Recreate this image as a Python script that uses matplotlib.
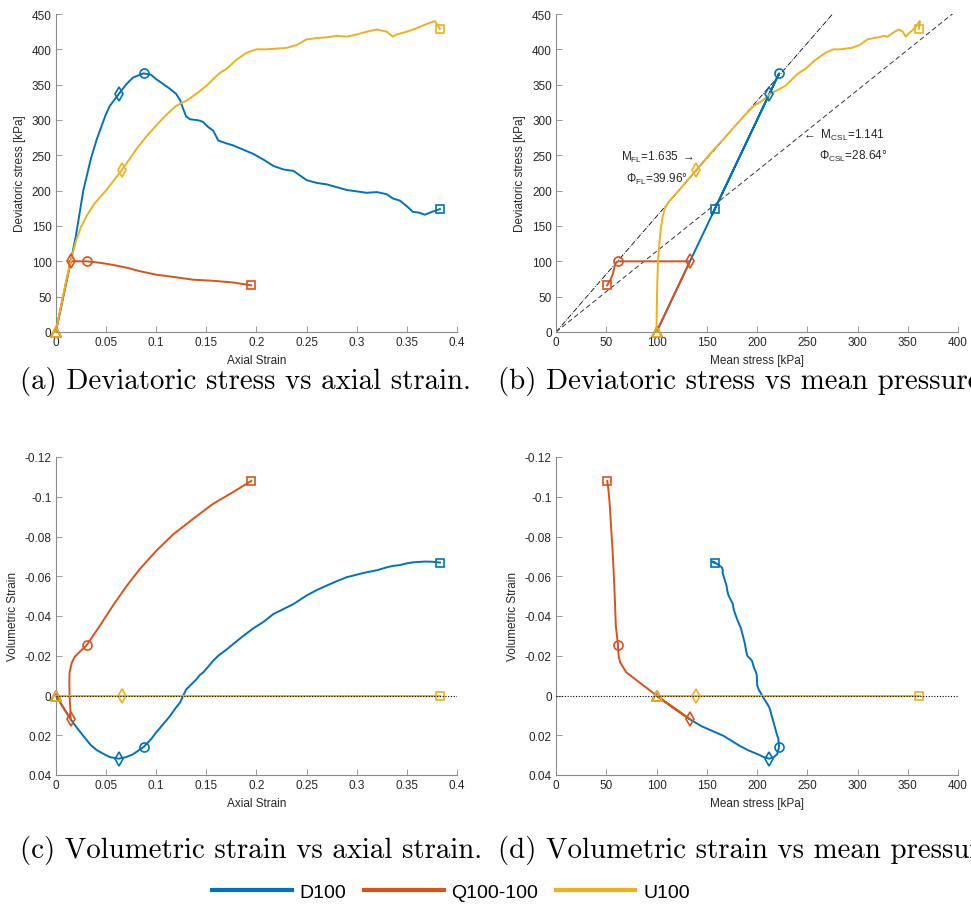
import numpy as np
import matplotlib
matplotlib.use("Agg")
import matplotlib.pyplot as plt
from matplotlib.lines import Line2D
from matplotlib.ticker import FuncFormatter

plt.rcParams['font.family'] = ['Liberation Sans', 'DejaVu Sans']
plt.rcParams['mathtext.fontset'] = 'custom'
plt.rcParams['mathtext.rm'] = 'Liberation Sans'
plt.rcParams['mathtext.it'] = 'Liberation Sans:italic'
plt.rcParams['mathtext.bf'] = 'Liberation Sans:bold'

# ---------------- data ----------------
series_names = ["D100", "Q100-100", "U100"]
colors = ["#0072BD", "#D95319", "#EDB120"]

# D100 (drained): axial strain, deviatoric stress [kPa], volumetric strain, mean stress [kPa]
d_strain = [0, 0.005, 0.01, 0.015, 0.02, 0.0275, 0.035, 0.041, 0.05, 0.054, 0.063, 0.07,
            0.077, 0.0876, 0.095, 0.1, 0.107, 0.114, 0.12, 0.124, 0.127, 0.13, 0.134, 0.14,
            0.144, 0.147, 0.152, 0.157, 0.162, 0.17, 0.177, 0.187, 0.197, 0.207, 0.217,
            0.227, 0.237, 0.25, 0.26, 0.27, 0.28, 0.29, 0.3, 0.31, 0.32, 0.33, 0.336, 0.343,
            0.35, 0.356, 0.362, 0.368, 0.375, 0.383]
d_q = [0, 33, 67, 100, 135, 200, 245, 273, 308, 320, 337, 350,
       360, 366, 364, 358, 351, 344, 337, 328, 316, 305, 301, 300,
       299, 297, 290, 285, 271, 267, 264, 258, 252, 244, 235,
       230, 228, 215, 211, 209, 205, 201, 199, 197, 198, 195, 189, 186,
       178, 170, 169, 166, 170, 174]
d_ev = [0, 0.004, 0.008, 0.012, 0.0155, 0.0203, 0.025, 0.0275, 0.030, 0.031, 0.0318, 0.031,
        0.0296, 0.0259, 0.022, 0.0187, 0.0145, 0.0103, 0.006, 0.0035, 0.0002, -0.003, -0.005, -0.008,
        -0.0105, -0.0116, -0.0145, -0.0175, -0.020, -0.023, -0.0259, -0.030, -0.0338, -0.037, -0.041,
        -0.0435, -0.046, -0.0503, -0.053, -0.0553, -0.0575, -0.0595, -0.0608, -0.062, -0.063, -0.0645, -0.0652, -0.0656,
        -0.0665, -0.067, -0.0672, -0.0674, -0.0673, -0.0669]
d_p = [100.0, 111.0, 122.3, 133.3, 145.0, 166.7, 181.7, 191.0, 202.7, 206.7, 212.3, 216.7,
       220.0, 222.0, 221.3, 219.3, 217.0, 214.7, 212.3, 209.3, 205.3, 201.7, 200.3, 200.0,
       199.7, 199.0, 196.7, 195.0, 190.3, 189.0, 188.0, 186.0, 184.0, 181.3, 178.3,
       176.7, 176.0, 171.7, 170.3, 169.7, 168.3, 167.0, 166.3, 165.7, 166.0, 165.0, 163.0, 162.0,
       159.3, 156.7, 156.3, 155.3, 156.7, 158.0]
d_marks = {"d": 10, "o": 13, "s": 53, "^": 0}

# Q100-100: loading, constant-q reduction of p, then softening
q_strain = [0, 0.005, 0.01, 0.015, 0.0145, 0.0138, 0.0136, 0.0138, 0.016, 0.019, 0.024, 0.031,
            0.044, 0.057, 0.071, 0.084, 0.1006, 0.117, 0.137, 0.157, 0.177, 0.195]
q_q = [0, 33, 67, 100, 100, 100, 100, 100, 100, 100, 100, 100,
       98, 95, 91, 86, 81, 78, 74, 72.5, 70, 66]
q_ev = [0, 0.004, 0.008, 0.012, 0.006, 0.0, -0.0066, -0.0116, -0.0165, -0.0195, -0.022, -0.0254,
        -0.0351, -0.0452, -0.0553, -0.0637, -0.073, -0.081, -0.0889, -0.0965, -0.1024, -0.108]
q_p = [100, 111, 122.3, 133.3, 116, 100, 83, 70, 64, 62.5, 62, 61.7,
       59.5, 58.8, 58.0, 57.2, 56.3, 55.3, 54.3, 53.4, 52.4, 51.0]
q_marks = {"d": 3, "o": 11, "s": 21, "^": 0}

# U100 (undrained): volumetric strain stays zero
u_strain = [0, 0.005, 0.01, 0.015, 0.02, 0.025, 0.03, 0.035, 0.04, 0.05, 0.0657, 0.08, 0.09,
            0.1, 0.11, 0.12, 0.13, 0.14, 0.15, 0.16, 0.165, 0.17, 0.18, 0.19, 0.2, 0.21, 0.22,
            0.23, 0.24, 0.25, 0.26, 0.27, 0.28, 0.29, 0.3, 0.31, 0.32, 0.33, 0.336, 0.34, 0.35,
            0.36, 0.37, 0.378, 0.383]
u_q = [0, 35, 70, 100, 128, 148, 162, 174, 184, 200, 228.6, 258, 276,
       292, 307, 320, 327, 337, 348, 362, 368, 372, 385, 395, 400, 400, 401,
       402, 406, 414, 416, 417, 419, 418, 421, 425, 428, 425, 418, 421, 425,
       430, 436, 440, 429]
u_p = [100, 100.3, 100.8, 101.5, 103, 104.5, 106, 108, 112, 122, 139, 157, 168.5,
       178.5, 188, 197, 205, 213, 228, 238, 243, 248, 258, 268, 276, 282, 288,
       294, 302, 310, 316, 321, 326, 330, 333, 337, 341, 345, 348, 350, 353,
       357, 360, 362, 361]
u_ev = [0.0] * len(u_strain)
u_marks = {"d": 10, "s": 44, "^": 0}

M_FL, PHI_FL = 1.635, 39.96
M_CSL, PHI_CSL = 1.141, 28.64

series = [
    (d_strain, d_q, d_ev, d_p, d_marks),
    (q_strain, q_q, q_ev, q_p, q_marks),
    (u_strain, u_q, u_ev, u_p, u_marks),
]

# ---------------- figure ----------------
W, H = 971, 912
fig = plt.figure(figsize=(W / 100, H / 100), dpi=100)

def ax_at(l, t, r, b):
    return fig.add_axes([l / W, 1 - b / H, (r - l) / W, (b - t) / H])

axA = ax_at(55.7, 15, 457, 333)
axB = ax_at(556, 15, 958, 333)
axC = ax_at(55.7, 458, 457, 776)
axD = ax_at(556, 458, 958, 776)

fmt = FuncFormatter(lambda v, pos: ("%g" % round(v, 6)).replace("\u2212", "-"))

def style(ax):
    for s in ["top", "right"]:
        ax.spines[s].set_visible(False)
    for s in ["left", "bottom"]:
        ax.spines[s].set_color("#8a8a8a")
        ax.spines[s].set_linewidth(0.8)
    ax.tick_params(direction="in", length=4, width=0.6, color="#8a8a8a",
                   labelsize=8.5, labelcolor="#262626", pad=3)
    ax.xaxis.set_major_formatter(fmt)
    ax.yaxis.set_major_formatter(fmt)

LW = 1.4
MS = {"o": 6.5, "d": 7.0, "s": 5.5, "^": 7.0}

def plot_series(ax, x, y, marks, color):
    ax.plot(x, y, color=color, lw=LW, zorder=3, clip_on=False)
    for m, i in marks.items():
        ax.plot([x[i]], [y[i]], linestyle="none", marker=m, ms=MS[m],
                mfc="none", mec=color, mew=1.2, zorder=4, clip_on=False)

LBL = dict(fontsize=8.5, color="#262626", labelpad=4)

# (a)
for (st, q, ev, p, mk), c in zip(series, colors):
    plot_series(axA, st, q, mk, c)
axA.set_xlim(0, 0.4)
axA.set_ylim(0, 450)
axA.set_xticks(np.arange(0, 0.41, 0.05))
axA.set_yticks(np.arange(0, 451, 50))
axA.set_xlabel("Axial Strain", **LBL)
axA.set_ylabel("Deviatoric stress [kPa]", **LBL)
style(axA)

# (b)
pl = np.array([0, 400])
axB.plot(pl, M_FL * pl, color="black", lw=0.6, ls="-.", zorder=2)
axB.plot(pl, M_CSL * pl, color="#333333", lw=0.7, ls=(0, (5, 3)), zorder=2)
for (st, q, ev, p, mk), c in zip(series, colors):
    plot_series(axB, p, q, mk, c)
axB.set_xlim(0, 400)
axB.set_ylim(0, 450)
axB.set_xticks(np.arange(0, 401, 50))
axB.set_yticks(np.arange(0, 451, 50))
axB.set_xlabel("Mean stress [kPa]", **LBL)
axB.set_ylabel("Deviatoric stress [kPa]", **LBL)
style(axB)
ann = dict(fontsize=8.5, color="#262626", va="center", ha="left", zorder=6)
axB.text(65, 249, r"M$_{\mathrm{FL}}$=%.3f $\rightarrow$" % M_FL, **ann)
axB.text(70, 217, r"$\Phi_{\mathrm{FL}}$=%.2f°" % PHI_FL, **ann)
axB.text(245, 280, r"$\leftarrow$ M$_{\mathrm{CSL}}$=%.3f" % M_CSL, **ann)
axB.text(262, 250, r"$\Phi_{\mathrm{CSL}}$=%.2f°" % PHI_CSL, **ann)

# (c)
for (st, q, ev, p, mk), c in zip(series, colors):
    plot_series(axC, st, ev, mk, c)
axC.axhline(0, color="black", lw=0.8, ls=(0, (1, 1.5)), zorder=5)
axC.set_xlim(0, 0.4)
axC.set_ylim(0.04, -0.12)
axC.set_xticks(np.arange(0, 0.41, 0.05))
axC.set_yticks(np.arange(-0.12, 0.041, 0.02))
axC.set_xlabel("Axial Strain", **LBL)
axC.set_ylabel("Volumetric Strain", **LBL)
style(axC)

# (d)
for (st, q, ev, p, mk), c in zip(series, colors):
    plot_series(axD, p, ev, mk, c)
axD.axhline(0, color="black", lw=0.8, ls=(0, (1, 1.5)), zorder=5)
axD.set_xlim(0, 400)
axD.set_ylim(0.04, -0.12)
axD.set_xticks(np.arange(0, 401, 50))
axD.set_yticks(np.arange(-0.12, 0.041, 0.02))
axD.set_xlabel("Mean stress [kPa]", **LBL)
axD.set_ylabel("Volumetric Strain", **LBL)
style(axD)

# captions
cap_kw = dict(fontsize=20.8, family="cmr10", color="black", va="center", ha="left")
fig.text(20 / W, 1 - 381 / H, "(a) Deviatoric stress vs axial strain.", **cap_kw)
fig.text(498 / W, 1 - 381 / H, "(b) Deviatoric stress vs mean pressure.", **cap_kw)
fig.text(20 / W, 1 - 851 / H, "(c) Volumetric strain vs axial strain.", **cap_kw)
fig.text(498 / W, 1 - 851 / H, "(d) Volumetric strain vs mean pressure.", **cap_kw)

# legend
handles = [Line2D([0], [0], color=c, lw=3) for c in colors]
fig.legend(handles, series_names, loc="center", bbox_to_anchor=(451 / W, 1 - 893 / H),
           ncol=3, frameon=False, fontsize=14, handlelength=4.1, columnspacing=0.9,
           handletextpad=0.4)

fig.savefig("out.png", dpi=100)
